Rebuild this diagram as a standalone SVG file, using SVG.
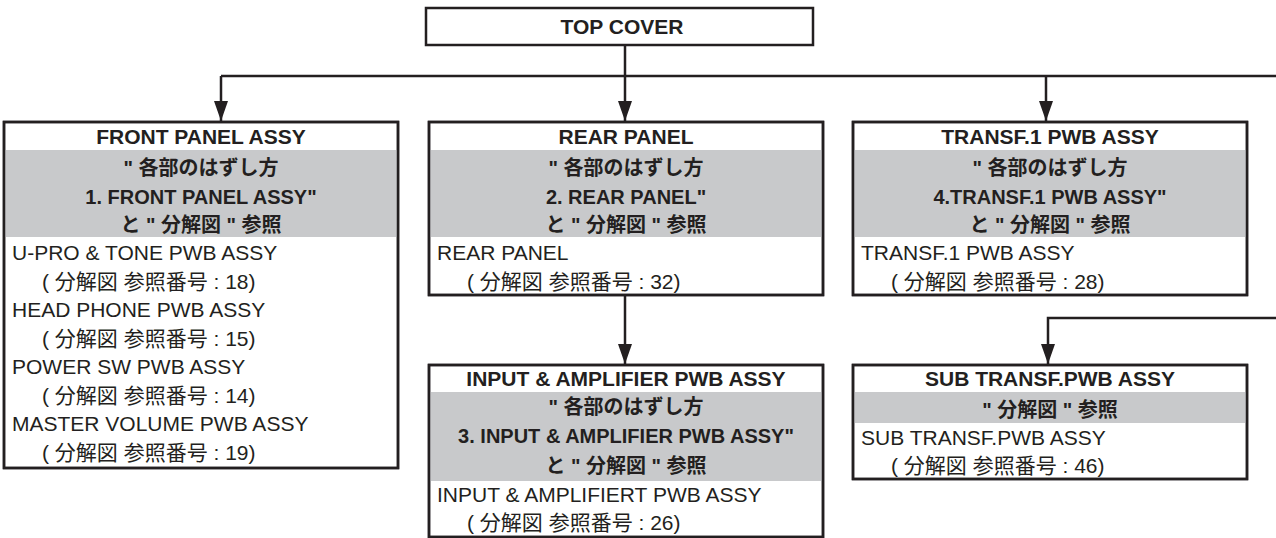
<svg xmlns="http://www.w3.org/2000/svg" width="1276" height="538" viewBox="0 0 1276 538">
  <style>
    .box { fill: #ffffff; stroke: #231f20; stroke-width: 2.5; }
    .frame { fill: none; stroke: #231f20; stroke-width: 2.5; }
    .band { fill: #c8c9cb; stroke: none; }
    .conn { fill: none; stroke: #231f20; stroke-width: 2.5; }
    text { font-family: "Liberation Sans", "Noto Sans CJK JP", sans-serif; font-size: 21px; fill: #231f20; }
    .b { font-weight: bold; text-anchor: middle; }
    .g { font-size: 20px; }
  </style>
  <defs>
    <marker id="arr" markerUnits="userSpaceOnUse" viewBox="0 0 20 14" refX="20" refY="7" markerWidth="20" markerHeight="14" orient="auto">
      <path d="M0,0 L20,7 L0,14 z" fill="#231f20"/>
    </marker>
  </defs>
  <rect width="1276" height="538" fill="#ffffff"/>

  <g id="connectors">
    <path class="conn" d="M625,45 V76"/>
    <path class="conn" d="M221,76 H1276"/>
    <path class="conn" d="M221,76 V121" marker-end="url(#arr)"/>
    <path class="conn" d="M625,76 V121" marker-end="url(#arr)"/>
    <path class="conn" d="M1046,76 V121" marker-end="url(#arr)"/>
    <path class="conn" d="M625,295 V364" marker-end="url(#arr)"/>
    <path class="conn" d="M1276,318 H1048 V364" marker-end="url(#arr)"/>
  </g>

  <g id="top-cover">
    <rect class="box" x="426" y="8" width="387" height="37"/>
    <text class="b" x="622" y="34">TOP COVER</text>
  </g>

  <g id="front-panel">
    <rect class="box" x="4" y="122" width="394" height="346"/>
    <rect class="band" x="5" y="150" width="392" height="87"/>
    <rect class="frame" x="4" y="122" width="394" height="346"/>
    <text class="b" x="201" y="144">FRONT PANEL ASSY</text>
    <text class="b g" x="201" y="175">" 各部のはずし方</text>
    <text class="b g" x="201" y="204">1. FRONT PANEL ASSY"</text>
    <text class="b g" x="201" y="232">と " 分解図 " 参照</text>
    <text x="12" y="260">U-PRO &amp; TONE PWB ASSY</text>
    <text x="42" y="288.5">( 分解図 参照番号 : 18)</text>
    <text x="12" y="317">HEAD PHONE PWB ASSY</text>
    <text x="42" y="345.5">( 分解図 参照番号 : 15)</text>
    <text x="12" y="374">POWER SW PWB ASSY</text>
    <text x="42" y="402.5">( 分解図 参照番号 : 14)</text>
    <text x="12" y="431">MASTER VOLUME PWB ASSY</text>
    <text x="42" y="459.5">( 分解図 参照番号 : 19)</text>
  </g>

  <g id="rear-panel">
    <rect class="box" x="429" y="122" width="394" height="173"/>
    <rect class="band" x="430" y="150" width="392" height="87"/>
    <rect class="frame" x="429" y="122" width="394" height="173"/>
    <text class="b" x="626" y="144">REAR PANEL</text>
    <text class="b g" x="626" y="175">" 各部のはずし方</text>
    <text class="b g" x="626" y="204">2. REAR PANEL"</text>
    <text class="b g" x="626" y="232">と " 分解図 " 参照</text>
    <text x="437" y="260">REAR PANEL</text>
    <text x="467" y="288.5">( 分解図 参照番号 : 32)</text>
  </g>

  <g id="transf1">
    <rect class="box" x="853" y="122" width="394" height="173"/>
    <rect class="band" x="854" y="150" width="392" height="87"/>
    <rect class="frame" x="853" y="122" width="394" height="173"/>
    <text class="b" x="1050" y="144">TRANSF.1 PWB ASSY</text>
    <text class="b g" x="1050" y="175">" 各部のはずし方</text>
    <text class="b g" x="1050" y="204">4.TRANSF.1 PWB ASSY"</text>
    <text class="b g" x="1050" y="232">と " 分解図 " 参照</text>
    <text x="861" y="260">TRANSF.1 PWB ASSY</text>
    <text x="891" y="288.5">( 分解図 参照番号 : 28)</text>
  </g>

  <g id="input-amp">
    <rect class="box" x="429" y="365" width="394" height="172"/>
    <rect class="band" x="430" y="392" width="392" height="89"/>
    <rect class="frame" x="429" y="365" width="394" height="172"/>
    <text class="b" x="626" y="386">INPUT &amp; AMPLIFIER PWB ASSY</text>
    <text class="b g" x="626" y="414">" 各部のはずし方</text>
    <text class="b g" x="626" y="443">3. INPUT &amp; AMPLIFIER PWB ASSY"</text>
    <text class="b g" x="626" y="473">と " 分解図 " 参照</text>
    <text x="437" y="502">INPUT &amp; AMPLIFIERT PWB ASSY</text>
    <text x="467" y="530">( 分解図 参照番号 : 26)</text>
  </g>

  <g id="sub-transf">
    <rect class="box" x="853" y="365" width="394" height="114"/>
    <rect class="band" x="854" y="392" width="392" height="31"/>
    <rect class="frame" x="853" y="365" width="394" height="114"/>
    <text class="b" x="1050" y="386">SUB TRANSF.PWB ASSY</text>
    <text class="b g" x="1050" y="417">" 分解図 " 参照</text>
    <text x="861" y="445">SUB TRANSF.PWB ASSY</text>
    <text x="891" y="473">( 分解図 参照番号 : 46)</text>
  </g>
</svg>
